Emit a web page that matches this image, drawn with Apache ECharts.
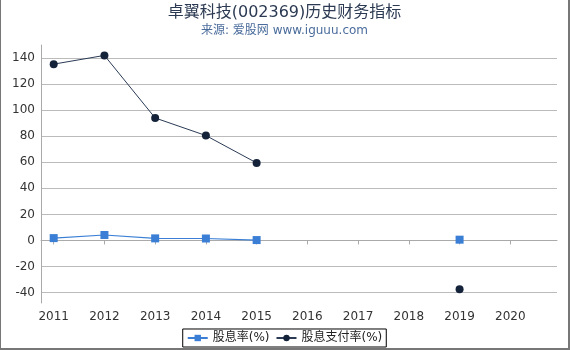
<!DOCTYPE html>
<html><head><meta charset="utf-8">
<script src="https://cdn.jsdelivr.net/npm/echarts@6/dist/echarts.min.js"></script>
<style>
html,body{margin:0;padding:0;background:#fff;}
#wrap{width:570px;height:350px;box-sizing:border-box;border-left:1px solid #777;border-right:2px solid #777;border-bottom:2px solid #777;}
#c{width:567px;height:348px;}
</style></head>
<body><div id="wrap"><div id="c"></div></div>
<script>
var years = [2011, 2012, 2013, 2014, 2015, 2016, 2017, 2018, 2019];
var dividendYield = [1.8, 4.2, 1.6, 1.5, 0.3, null, null, null, 0.6];
var payoutRatio = [135.3, 142, 94, 80.5, 59.5, null, null, null, -37.5];
var xTicks = [2011, 2012, 2013, 2014, 2015, 2016, 2017, 2018, 2019, 2020];
var yTicks = [-40, -20, 0, 20, 40, 60, 80, 100, 120, 140];

function pairs(vals){ return years.map(function(y,i){ return [y, vals[i]==null ? '-' : vals[i]]; }); }

var chart = echarts.init(document.getElementById('c'));
chart.setOption({
  animation:false,
  textStyle:{fontFamily:'DejaVu Sans, Noto Sans CJK SC'},
  title:{
    text:'卓翼科技(002369)历史财务指标',
    subtext:'来源: 爱股网 www.iguuu.com',
    left:'center', top:0, itemGap:4,
    textStyle:{fontSize:16,fontWeight:'normal',color:'#2b3a52',fontFamily:'DejaVu Sans, Noto Sans CJK SC'},
    subtextStyle:{fontSize:12,color:'#4a6c9b',fontFamily:'DejaVu Sans, Noto Sans CJK SC'}
  },
  legend:{
    bottom:1, left:'center',
    borderColor:'#000', borderWidth:1, padding:[3,4,3,4], itemGap:6,
    itemWidth:20, itemHeight:8,
    textStyle:{fontSize:12,color:'#222'},
    data:['股息率(%)','股息支付率(%)']
  },
  grid:{left:40, right:11, top:45, bottom:45, containLabel:false},
  xAxis:{
    type:'value', min:2010.75, max:2020.92,
    axisLine:{lineStyle:{color:'#aaa'}},
    axisTick:{show:true, customValues:xTicks, length:4, lineStyle:{color:'#aaa'}},
    axisLabel:{customValues:xTicks, color:'#333', fontSize:12, formatter:function(v){return String(v);}},
    splitLine:{show:false}
  },
  yAxis:{
    type:'value', min:-48, max:150,
    axisLine:{show:true, lineStyle:{color:'#aaa'}},
    axisTick:{show:false, customValues:yTicks},
    axisLabel:{customValues:yTicks, color:'#333', fontSize:12, margin:6},
    splitLine:{show:true, lineStyle:{color:'#bbb'}}
  },
  series:[
    {name:'股息率(%)', type:'line', data:pairs(dividendYield), symbol:'rect', symbolSize:8,
     itemStyle:{color:'#3a7fd5'}, lineStyle:{color:'#3a7fd5', width:1.2}, connectNulls:false},
    {name:'股息支付率(%)', type:'line', data:pairs(payoutRatio), symbol:'circle', symbolSize:8,
     itemStyle:{color:'#15233a'}, lineStyle:{color:'#2a3a55', width:1}, connectNulls:false}
  ]
});
</script></body></html>
